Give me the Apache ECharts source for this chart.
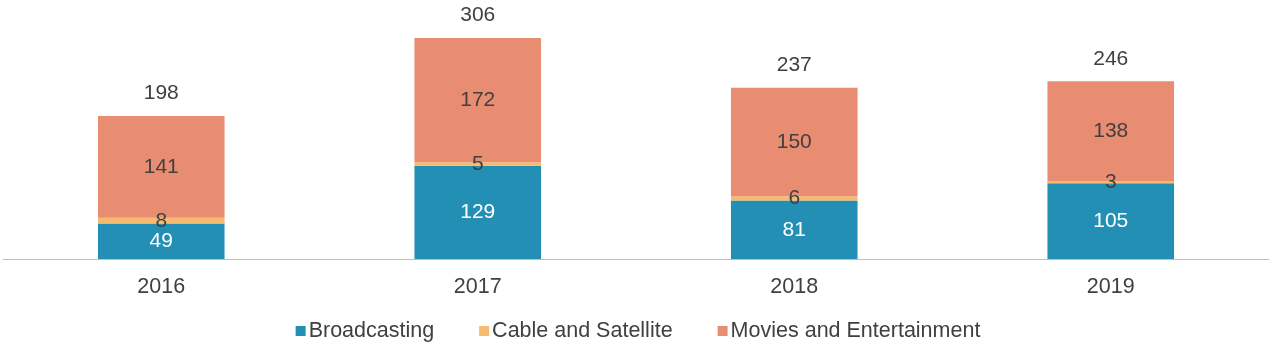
<!DOCTYPE html>
<html>
<head>
<meta charset="utf-8">
<script src="https://cdn.jsdelivr.net/npm/echarts@6/dist/echarts.min.js"></script>
<style>
  html, body { margin: 0; padding: 0; background: #fff; }
  #chart { width: 1276px; height: 350px; }
</style>
</head>
<body>
<div id="chart"></div>
<script>
  // data
  var years = ['2016', '2017', '2018', '2019'];
  var broadcasting = [49, 129, 81, 105];
  var cableSatellite = [8, 5, 6, 3];
  var movies = [141, 172, 150, 138];
  var totals = [198, 306, 237, 246];

  var font = 'Arial, "Liberation Sans", sans-serif';
  var txt = '#404040';

  var chart = echarts.init(document.getElementById('chart'));

  chart.setOption({
    animation: false,
    textStyle: { fontFamily: font },
    grid: { left: 3, right: 7, top: 38, bottom: 91 },
    legend: {
      bottom: 3,
      left: 'center',
      itemWidth: 10,
      itemHeight: 10,
      itemGap: 45,
      icon: 'rect',
      textStyle: { fontSize: 21.5, color: txt, fontFamily: font, padding: [0, 0, 0, -2] },
      data: ['Broadcasting', 'Cable and Satellite', 'Movies and Entertainment']
    },
    xAxis: {
      type: 'category',
      data: years,
      axisLine: { lineStyle: { color: '#bfbfbf', width: 1 } },
      axisTick: { show: false },
      axisLabel: { fontSize: 21.5, color: txt, margin: 17, fontFamily: font }
    },
    yAxis: {
      type: 'value',
      min: 0,
      max: 306,
      show: false,
      splitLine: { show: false }
    },
    series: [
      {
        name: 'Broadcasting',
        type: 'bar',
        stack: 'a',
        barWidth: '40%',
        data: broadcasting,
        itemStyle: { color: '#238fb5' },
        label: { show: true, position: 'inside', fontSize: 21, color: '#ffffff', fontFamily: font }
      },
      {
        name: 'Cable and Satellite',
        type: 'bar',
        stack: 'a',
        data: cableSatellite,
        itemStyle: { color: '#f5ba6e' },
        label: { show: true, position: 'inside', fontSize: 21, color: txt, fontFamily: font }
      },
      {
        name: 'Movies and Entertainment',
        type: 'bar',
        stack: 'a',
        data: movies,
        itemStyle: { color: '#e88c72' },
        label: { show: true, position: 'inside', fontSize: 21, color: txt, fontFamily: font }
      },
      {
        name: 'Total',
        type: 'bar',
        stack: 'a',
        data: years.map(function () { return 0; }),
        itemStyle: { color: 'transparent' },
        label: {
          show: true,
          position: 'top',
          distance: 12,
          fontSize: 21,
          color: txt,
          fontFamily: font,
          formatter: function (p) { return totals[p.dataIndex]; }
        },
        tooltip: { show: false }
      }
    ]
  });
</script>
</body>
</html>
